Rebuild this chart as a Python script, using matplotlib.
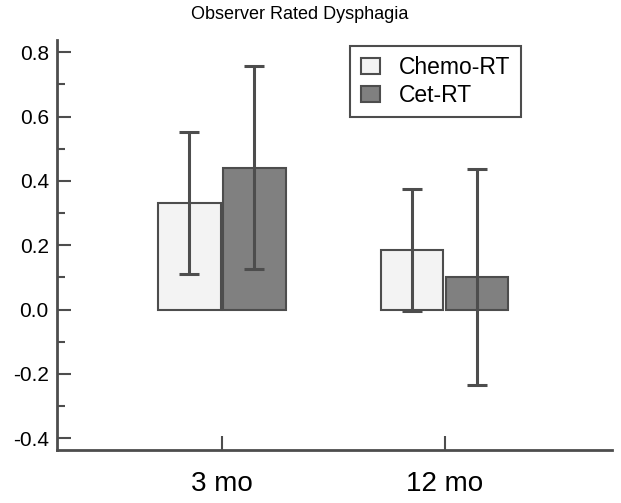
import matplotlib
matplotlib.use("Agg")
import matplotlib.pyplot as plt
import numpy as np

plt.rcParams['font.family'] = ['Liberation Sans', 'DejaVu Sans']

categories = ["3 mo", "12 mo"]
groups = ["Chemo-RT", "Cet-RT"]
means = {"Chemo-RT": [0.33, 0.185], "Cet-RT": [0.44, 0.10]}
lower = {"Chemo-RT": [0.11, -0.005], "Cet-RT": [0.125, -0.235]}
upper = {"Chemo-RT": [0.553, 0.375], "Cet-RT": [0.757, 0.436]}
colors = {"Chemo-RT": "#f3f3f3", "Cet-RT": "#808080"}

axc = "#4d4d4d"

fig = plt.figure(figsize=(6.21, 5.03), dpi=100)
ax = fig.add_axes([0.092, 0.105, 0.893, 0.815])

x = np.arange(len(categories))
width = 0.28
offsets = [-0.146, 0.146]
for g, off in zip(groups, offsets):
    m = np.array(means[g])
    lo = m - np.array(lower[g])
    hi = np.array(upper[g]) - m
    ax.bar(x + off, m, width, color=colors[g], edgecolor=axc, linewidth=1.5,
           label=g, zorder=2)
    ax.errorbar(x + off, m, yerr=[lo, hi], fmt='none', ecolor=axc,
                elinewidth=2.2, capsize=7.5, capthick=2.2, zorder=3)

ax.set_xlim(-0.74, 1.75)
ax.set_ylim(-0.437, 0.837)
ax.set_xticks(x)
ax.set_xticklabels(categories, fontsize=20)
ax.set_yticks([-0.4, -0.2, 0.0, 0.2, 0.4, 0.6, 0.8])
ax.set_yticklabels(["-0.4", "-0.2", "0.0", "0.2", "0.4", "0.6", "0.8"], fontsize=15)
ax.set_yticks(np.arange(-0.3, 0.8, 0.2), minor=True)
ax.tick_params(axis='y', direction='in', length=10, width=1.5, color=axc, pad=6)
ax.tick_params(axis='y', which='minor', direction='in', length=6, width=1.5, color=axc)
ax.tick_params(axis='x', direction='in', length=10, width=1.5, color=axc, pad=15)

for s in ['top', 'right']:
    ax.spines[s].set_visible(False)
for s in ['left', 'bottom']:
    ax.spines[s].set_color(axc)
    ax.spines[s].set_linewidth(2)

fig.text(0.483, 0.971, "Observer Rated Dysphagia", ha='center', va='center', fontsize=13)

leg = ax.legend(loc='upper left', bbox_to_anchor=(0.564, 0.909), bbox_transform=fig.transFigure,
                fontsize=16.5, fancybox=False, framealpha=1, edgecolor=axc,
                handlelength=0.87, handleheight=0.7, borderpad=0.45, labelspacing=0.2,
                handletextpad=0.8, borderaxespad=0)
leg.get_frame().set_linewidth(1.5)

fig.savefig("out.png", dpi=100)
